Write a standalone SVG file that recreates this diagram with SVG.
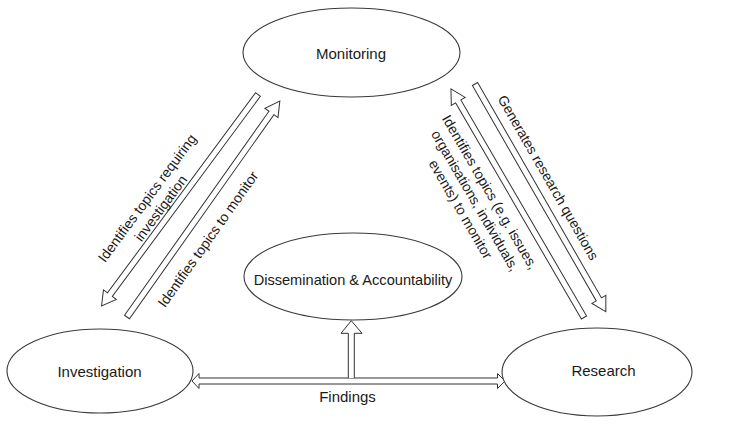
<svg xmlns="http://www.w3.org/2000/svg" width="738" height="432" viewBox="0 0 738 432">
<style>
.node{fill:#fff;stroke:#3a3a3a;stroke-width:1.1}
.arr{fill:#fff;stroke:#333;stroke-width:1}
.lbl{font-family:"Liberation Sans",Arial,sans-serif;font-size:15px;fill:#1a1a1a;text-anchor:middle}
.el{font-family:"Liberation Sans",Arial,sans-serif;font-size:14px;fill:#1a1a1a;text-anchor:middle}
</style>
<rect width="738" height="432" fill="#fff"/>
<g id="connectors">
  <g transform="translate(258,94.5) rotate(126.5)"><path class="arr" d="M0,-3 H249 V-8 L263,0 L249,8 V3 H0 Z"/></g>
  <g transform="translate(127,317) rotate(-54.7)"><path class="arr" d="M0,-3 H250 V-8 L264.5,0 L250,8 V3 H0 Z"/></g>
  <g transform="translate(584,317.5) rotate(-120.2)"><path class="arr" d="M0,-3 H250 V-8 L264.5,0 L250,8 V3 H0 Z"/></g>
  <g transform="translate(475,84) rotate(60.1)"><path class="arr" d="M0,-3 H248.5 V-8 L262.5,0 L248.5,8 V3 H0 Z"/></g>
  <path class="arr" d="M192,381 L199,373.5 V378 H497.5 V373.5 L505,381 L497.5,388.5 V384 H199 V388.5 Z"/>
  <path class="arr" d="M348.3,378 V333.3 H341 L351.3,320.7 L362,333.3 H354.3 V378"/>
  <text class="el" transform="translate(151,201) rotate(-53.5)"><tspan x="0" y="0">Identifies topics requiring</tspan><tspan x="0" y="17">investigation</tspan></text>
  <text class="el" transform="translate(212,242) rotate(-54.7)">Identifies topics to monitor</text>
  <text class="el" transform="translate(485.7,194.5) rotate(59.8)"><tspan x="0" y="0">Identifies topics (e.g. issues,</tspan><tspan x="0" y="17">organisations, individuals,</tspan><tspan x="0" y="34">events) to monitor</tspan></text>
  <text class="el" transform="translate(544,180) rotate(60.1)">Generates research questions</text>
  <text class="lbl" x="347.5" y="402">Findings</text>
</g>
<g id="monitoring">
  <ellipse class="node" cx="351.5" cy="52.5" rx="108.5" ry="44.5"/>
  <text class="lbl" x="351" y="59">Monitoring</text>
</g>
<g id="dissemination">
  <ellipse class="node" cx="353" cy="276.5" rx="109" ry="43.5"/>
  <text class="lbl" x="353" y="285" style="font-size:14.6px">Dissemination &amp; Accountability</text>
</g>
<g id="investigation">
  <ellipse class="node" cx="100" cy="371" rx="93" ry="42"/>
  <text class="lbl" x="99.5" y="377">Investigation</text>
</g>
<g id="research">
  <ellipse class="node" cx="597" cy="372" rx="95" ry="44"/>
  <text class="lbl" x="603.5" y="376">Research</text>
</g>
</svg>
